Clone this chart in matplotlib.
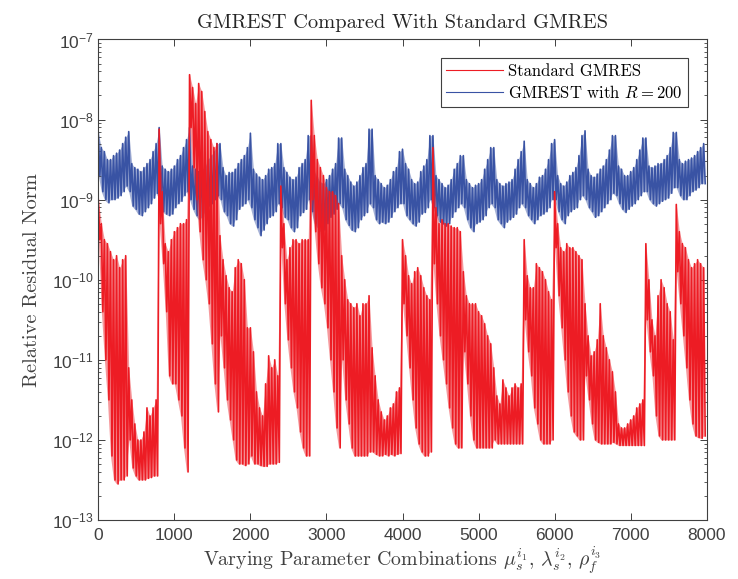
import numpy as np
import matplotlib
matplotlib.use("Agg")
import matplotlib.pyplot as plt
from matplotlib.font_manager import FontProperties

plt.rcParams['mathtext.fontset'] = 'custom'
plt.rcParams['mathtext.rm'] = 'Liberation Sans'
plt.rcParams['mathtext.it'] = 'Liberation Sans:italic'
plt.rcParams['font.family'] = 'Liberation Sans'

# log10 of the residual: 20 blocks of 400 combinations,
# 10 spike tops + 10 spike bottoms per block (one pair every 40 combinations)
red_top = [
    -9.0, -9.3, -9.5, -9.55, -9.65, -9.75, -9.7, -9.85, -9.75, -9.7,
    -11.1, -11.5, -11.8, -12.0, -12.0, -11.9, -11.6, -11.7, -11.6, -11.5,
    -8.12, -8.9, -9.55, -9.65, -9.5, -9.4, -9.35, -9.3, -9.3, -9.25,
    -7.44, -7.6, -7.8, -7.55, -7.65, -7.9, -8.15, -8.25, -8.35, -8.3,
    -9.45, -9.75, -9.95, -10.1, -10.15, -9.85, -9.75, -9.8, -10.0, -10.6,
    -10.6, -10.9, -11.4, -11.6, -11.7, -11.3, -10.95, -11.1, -11.0, -11.2,
    -8.83, -9.3, -9.75, -9.6, -9.5, -9.5, -9.55, -9.5, -9.5, -9.5,
    -7.76, -8.2, -8.5, -8.6, -8.7, -8.85, -8.9, -8.9, -8.95, -9.05,
    -9.7, -10.0, -10.25, -10.3, -10.35, -10.3, -10.45, -10.3, -10.3, -10.2,
    -10.85, -11.2, -11.5, -11.65, -11.75, -11.7, -11.6, -11.55, -11.4, -11.35,
    -9.5, -9.7, -9.95, -10.05, -9.9, -9.85, -9.95, -10.1, -10.2, -10.25,
    -8.35, -9.1, -9.3, -9.25, -9.3, -9.3, -9.33, -9.35, -9.35, -9.4,
    -9.9, -10.2, -10.3, -10.3, -10.3, -10.4, -10.45, -10.55, -10.7, -10.8,
    -11.1, -11.45, -11.55, -11.25, -11.35, -11.45, -11.35, -11.3, -11.35, -11.3,
    -9.5, -9.95, -10.1, -10.1, -9.8, -9.85, -9.9, -10.0, -10.15, -10.25,
    -8.9, -9.3, -9.6, -9.65, -9.55, -9.6, -9.6, -9.65, -9.7, -9.75,
    -10.3, -10.7, -10.95, -10.9, -10.75, -10.3, -10.7, -10.85, -11.0, -11.15,
    -11.4, -11.8, -11.85, -11.85, -11.8, -11.75, -11.7, -11.6, -11.55, -11.5,
    -9.55, -10.0, -10.5, -10.7, -10.2, -10.0, -10.1, -10.3, -10.4, -10.75,
    -9.06, -9.4, -9.55, -9.6, -9.75, -9.85, -9.8, -9.75, -9.8, -9.85,
]
red_bot = [
    -9.5, -10.4, -11.0, -11.5, -12.2, -12.5, -12.55, -12.5, -12.5, -12.45,
    -12.0, -12.35, -12.45, -12.5, -12.5, -12.5, -12.48, -12.47, -12.45, -12.45,
    -9.3, -9.8, -10.4, -11.2, -11.3, -11.3, -11.5, -11.7, -12.1, -12.4,
    -8.1, -8.6, -9.0, -9.4, -9.75, -10.0, -10.3, -10.8, -11.3, -11.65,
    -10.7, -11.1, -11.5, -11.75, -12.0, -12.25, -12.3, -12.3, -12.32, -12.3,
    -12.2, -12.3, -12.3, -12.32, -12.33, -12.33, -12.3, -12.3, -12.3, -12.28,
    -9.6, -10.3, -10.75, -11.1, -11.4, -11.6, -11.9, -12.1, -12.2, -12.2,
    -9.0, -9.4, -9.8, -10.1, -10.3, -10.6, -11.0, -11.4, -11.85, -12.1,
    -11.0, -11.5, -11.8, -12.1, -12.2, -12.2, -12.2, -12.2, -12.2, -12.15,
    -12.15, -12.18, -12.2, -12.2, -12.18, -12.2, -12.18, -12.2, -12.18, -12.17,
    -10.3, -10.7, -11.1, -11.5, -11.85, -12.05, -12.15, -12.2, -12.2, -12.15,
    -9.8, -10.3, -10.7, -11.0, -11.3, -11.6, -11.85, -12.05, -12.1, -12.1,
    -10.9, -11.3, -11.7, -12.0, -12.1, -12.1, -12.1, -12.1, -12.1, -12.1,
    -12.0, -12.05, -12.05, -12.05, -12.05, -12.05, -12.05, -12.05, -12.05, -12.05,
    -10.5, -10.9, -11.2, -11.6, -11.8, -12.0, -12.05, -12.05, -12.05, -12.0,
    -9.6, -10.2, -10.6, -11.0, -11.4, -11.7, -11.9, -11.95, -12.0, -12.0,
    -11.2, -11.5, -11.8, -12.0, -12.03, -12.05, -12.05, -12.05, -12.05, -12.03,
    -12.05, -12.07, -12.07, -12.07, -12.07, -12.07, -12.07, -12.07, -12.07, -12.07,
    -10.5, -10.9, -11.2, -11.7, -11.95, -12.0, -12.0, -12.0, -12.0, -12.0,
    -9.9, -10.3, -10.7, -11.1, -11.5, -11.8, -11.95, -11.97, -11.98, -11.95,
]
blue_top = [
    -8.17, -8.35, -8.4, -8.5, -8.5, -8.45, -8.42, -8.38, -8.3, -8.22,
    -8.15, -8.55, -8.6, -8.62, -8.65, -8.6, -8.55, -8.5, -8.4, -8.3,
    -8.1, -8.58, -8.62, -8.65, -8.62, -8.58, -8.5, -8.45, -8.35, -8.25,
    -8.1, -8.58, -8.62, -8.65, -8.62, -8.6, -8.5, -8.45, -8.4, -8.3,
    -8.3, -8.6, -8.7, -8.66, -8.66, -8.62, -8.55, -8.5, -8.45, -8.35,
    -8.17, -8.62, -8.68, -8.72, -8.75, -8.7, -8.62, -8.6, -8.55, -8.3,
    -8.3, -8.6, -8.66, -8.72, -8.75, -8.72, -8.6, -8.55, -8.5, -8.2,
    -8.2, -8.65, -8.72, -8.78, -8.8, -8.75, -8.7, -8.62, -8.55, -8.23,
    -8.23, -8.62, -8.7, -8.78, -8.83, -8.78, -8.7, -8.6, -8.55, -8.12,
    -8.12, -8.7, -8.75, -8.8, -8.85, -8.82, -8.75, -8.65, -8.6, -8.4,
    -8.37, -8.55, -8.62, -8.75, -8.8, -8.78, -8.65, -8.58, -8.5, -8.2,
    -8.2, -8.7, -8.75, -8.8, -8.85, -8.82, -8.75, -8.62, -8.55, -8.45,
    -8.45, -8.75, -8.8, -8.85, -8.82, -8.8, -8.75, -8.62, -8.5, -8.35,
    -8.35, -8.75, -8.8, -8.83, -8.8, -8.78, -8.75, -8.62, -8.5, -8.4,
    -8.27, -8.75, -8.8, -8.85, -8.8, -8.72, -8.7, -8.62, -8.5, -8.3,
    -8.25, -8.7, -8.8, -8.83, -8.78, -8.7, -8.66, -8.6, -8.45, -8.2,
    -8.14, -8.62, -8.7, -8.72, -8.68, -8.62, -8.58, -8.5, -8.38, -8.2,
    -8.2, -8.58, -8.62, -8.7, -8.7, -8.65, -8.6, -8.5, -8.38, -8.23,
    -8.23, -8.58, -8.6, -8.58, -8.55, -8.55, -8.5, -8.45, -8.35, -8.16,
    -8.16, -8.5, -8.55, -8.52, -8.5, -8.48, -8.45, -8.4, -8.35, -8.3,
]
blue_bot = [
    -8.7, -8.9, -9.0, -9.04, -9.0, -9.0, -8.98, -8.95, -8.9, -8.83,
    -8.9, -9.08, -9.12, -9.18, -9.2, -9.15, -9.1, -9.05, -8.98, -8.92,
    -9.0, -9.15, -9.18, -9.2, -9.18, -9.1, -9.05, -9.02, -8.95, -8.9,
    -9.0, -9.12, -9.2, -9.25, -9.22, -9.15, -9.08, -9.05, -9.0, -8.95,
    -9.0, -9.15, -9.2, -9.3, -9.33, -9.25, -9.12, -9.08, -9.05, -9.0,
    -9.1, -9.25, -9.35, -9.45, -9.38, -9.3, -9.22, -9.2, -9.15, -9.05,
    -9.1, -9.22, -9.25, -9.35, -9.4, -9.35, -9.2, -9.16, -9.12, -9.0,
    -9.15, -9.3, -9.35, -9.4, -9.38, -9.3, -9.22, -9.18, -9.12, -9.05,
    -9.1, -9.25, -9.32, -9.38, -9.4, -9.35, -9.25, -9.2, -9.16, -9.05,
    -9.1, -9.25, -9.3, -9.28, -9.3, -9.28, -9.22, -9.15, -9.1, -9.05,
    -9.05, -9.2, -9.25, -9.3, -9.33, -9.28, -9.18, -9.16, -9.1, -9.0,
    -9.1, -9.2, -9.28, -9.3, -9.33, -9.3, -9.22, -9.15, -9.1, -9.05,
    -9.1, -9.25, -9.35, -9.4, -9.3, -9.28, -9.25, -9.2, -9.1, -9.05,
    -9.1, -9.25, -9.3, -9.35, -9.28, -9.25, -9.22, -9.18, -9.1, -9.05,
    -9.1, -9.2, -9.25, -9.3, -9.25, -9.2, -9.18, -9.15, -9.1, -9.0,
    -9.0, -9.15, -9.25, -9.3, -9.2, -9.15, -9.12, -9.1, -9.0, -8.95,
    -9.0, -9.1, -9.15, -9.22, -9.2, -9.15, -9.1, -9.05, -9.0, -8.92,
    -8.95, -9.05, -9.12, -9.16, -9.12, -9.08, -9.05, -9.0, -8.95, -8.9,
    -8.9, -9.0, -9.05, -9.08, -9.05, -9.02, -9.0, -8.98, -8.92, -8.85,
    -8.85, -8.95, -9.0, -9.0, -8.95, -8.9, -8.88, -8.85, -8.8, -8.8,
]
x_ticks = [0, 1000, 2000, 3000, 4000, 5000, 6000, 7000, 8000]
step = 40

def zigzag(top, bot):
    top = np.asarray(top)
    bot = np.asarray(bot)
    x = np.column_stack((np.arange(len(top)) * step, np.arange(len(top)) * step + step / 2)).ravel()
    y = 10.0 ** np.column_stack((top, bot)).ravel()
    return x, y

fig = plt.figure(figsize=(7.38, 5.79), dpi=100)
ax = fig.add_axes([0.1332, 0.1019, 0.8244, 0.8299])

red = '#ED1C24'
blue = '#3953A4'
xr, yr = zigzag(red_top, red_bot)
xb, yb = zigzag(blue_top, blue_bot)
xs = np.arange(len(red_top)) * step
ax.fill_between(xs, 10.0 ** np.array(blue_bot), 10.0 ** np.array(blue_top), color=blue, alpha=0.45, lw=0, zorder=1)
lb, = ax.plot(xb, yb, color=blue, lw=1.2, zorder=2)
ax.fill_between(xs, 10.0 ** np.array(red_bot), 10.0 ** np.array(red_top), color=red, alpha=0.45, lw=0, zorder=3)
lr, = ax.plot(xr, yr, color=red, lw=1.2, zorder=4)

ax.set_yscale('log')
ax.set_xlim(0, 8000)
ax.set_ylim(1e-13, 1e-7)
ax.set_xticks(x_ticks)
ax.set_xticklabels([str(t) for t in x_ticks])

gray = '#404040'
for s in ax.spines.values():
    s.set_color(gray)
    s.set_linewidth(0.8)
    s.set_zorder(5)
ax.tick_params(which='both', direction='in', top=True, right=True, colors=gray, labelsize=12.5)
ax.tick_params(which='major', length=5, width=0.7)
ax.tick_params(which='minor', length=2.5, width=0.6)
ax.tick_params(axis='x', pad=6)

cm = FontProperties(family='cmr10', size=14.7, math_fontfamily='cm')
ax.set_title('GMREST Compared With Standard GMRES', fontproperties=cm, color='#262626', pad=8)
ax.set_xlabel(r'Varying Parameter Combinations $\mu_s^{i_1}$, $\lambda_s^{i_2}$, $\rho_f^{i_3}$',
              fontproperties=FontProperties(family='cmr10', size=14.3, math_fontfamily='cm'),
              color=gray, labelpad=1)
ax.set_ylabel('Relative Residual Norm', fontproperties=cm, color=gray, labelpad=8)

leg = ax.legend([lr, lb], ['Standard GMRES', r'GMREST with $R = 200$'], loc='upper right',
                prop=FontProperties(family='cmr10', size=12, math_fontfamily='cm'),
                fancybox=False, framealpha=1, edgecolor=gray, handlelength=3.4,
                borderaxespad=1.1, labelspacing=0.3, handletextpad=0.3, borderpad=0.35)
leg.get_frame().set_linewidth(0.8)
leg.set_zorder(6)
for h in leg.get_lines():
    h.set_linewidth(0.8)

fig.savefig('out.png', dpi=100)
